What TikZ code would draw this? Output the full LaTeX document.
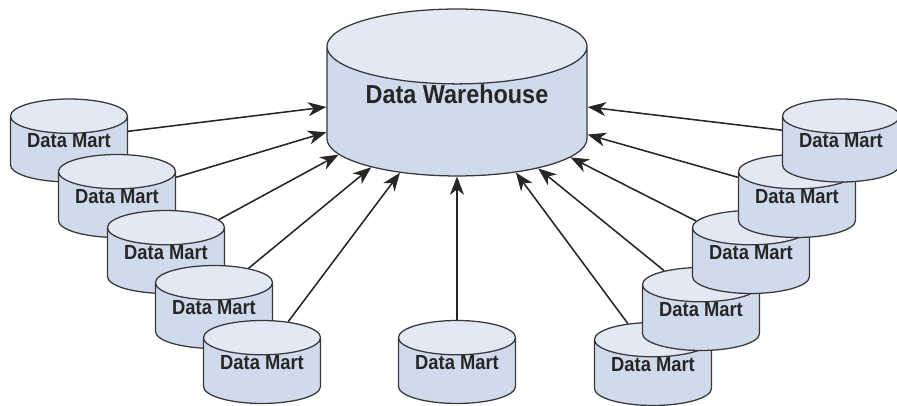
\documentclass[tikz,border=0pt]{standalone}
\usepackage{fontspec}
\setmainfont[FakeStretch=0.9]{Liberation Sans}
\usetikzlibrary{arrows.meta,shapes.geometric}
\definecolor{dbline}{HTML}{383838}
\definecolor{dbbody}{HTML}{CFDBEC}
\definecolor{dbtop}{HTML}{E2E9F4}
\tikzset{
  dbase/.style={cylinder,shape border rotate=90,aspect=0.41,draw=dbline,line width=0.9pt,
    cylinder uses custom fill,cylinder body fill=dbbody,cylinder end fill=dbtop,
    anchor=shape center,inner sep=0pt,text=black!85},
  mart/.style={dbase,minimum width=2.925cm,minimum height=1.875cm,
    text depth=12pt,font=\fontsize{14.5}{16}\selectfont\bfseries},
  house/.style={dbase,minimum width=6.5cm,minimum height=4.125cm,
    text depth=25pt,font=\fontsize{18.5}{20}\selectfont\bfseries},
  feed/.style={draw=black!85,line width=1.1pt,-{Stealth[length=13pt,width=10pt,inset=4pt]}}
}

\begin{document}
\begin{tikzpicture}[x=0.025cm,y=-0.025cm]
  \useasboundingbox (0,0) rectangle (897,406);
  % warehouse
  \node[house] (dw) at (457,92.5) {Data Warehouse};
  % marts on the left
  \node[mart] (l1) at (69,140.5) {Data Mart};
  \node[mart] (l2) at (117,196) {Data Mart};
  \node[mart] (l3) at (166,252) {Data Mart};
  \node[mart] (l4) at (214,307) {Data Mart};
  \node[mart] (l5) at (262,362) {Data Mart};
  % middle one
  \node[mart] (c) at (457,362) {Data Mart};
  % marts on the right
  \node[mart] (r5) at (653,364) {Data Mart};
  \node[mart] (r4) at (701,309) {Data Mart};
  \node[mart] (r3) at (751,252) {Data Mart};
  \node[mart] (r2) at (797,196) {Data Mart};
  \node[mart] (r1) at (841,140.5) {Data Mart};
  % feeds
  \draw[feed] (l1.17) -- (dw.178);
  \draw[feed] (l2.25) -- (dw.189);
  \draw[feed] (l3.38) -- (dw.200);
  \draw[feed] (l4.54) -- (dw.213);
  \draw[feed] (l5.62) -- (dw.227);
  \draw[feed] (c) -- (dw);
  \draw[feed] (r5.117) -- (dw.314);
  \draw[feed] (r4.128) -- (dw.325);
  \draw[feed] (r3.144) -- (dw.338);
  \draw[feed] (r2.155) -- (dw.350);
  \draw[feed] (r1.162) -- (dw.2);
\end{tikzpicture}
\end{document}
